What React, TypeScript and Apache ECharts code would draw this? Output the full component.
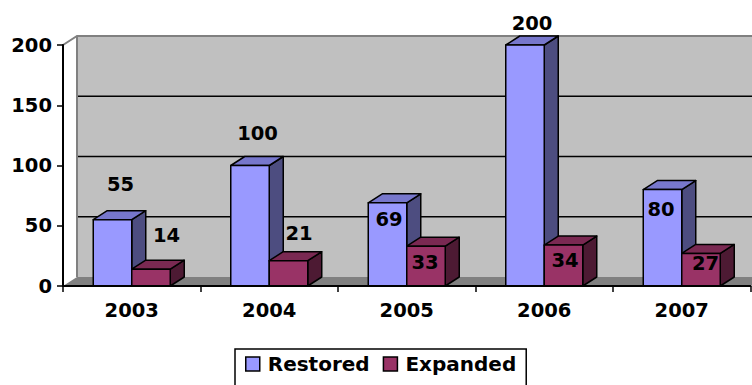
import React, { useEffect, useRef } from 'react';
import * as echarts from 'echarts';

const years = ['2003', '2004', '2005', '2006', '2007'];
const restored = [55, 100, 69, 200, 80];
const expanded = [14, 21, 33, 34, 27];
const yTicks = [0, 50, 100, 150, 200];

// Label offsets (px) from the top centre of each bar's front face
const restoredLabelShift = [[8, -35], [7.5, -32.5], [1.5, 17], [7, -22], [-1.5, 20]];
const expandedLabelShift = [[15.5, -34], [10.5, -27.5], [-1, 16], [1.5, 15], [4.5, 10]];

// depth of the 3D projection
const DX = 14;
const DY = -9;
const FONT = '"DejaVu Sans", "Liberation Sans", sans-serif';

type Faces = { front: string; top: string; side: string };

function barRenderer(shifts: number[][], side: 0 | 1, colors: Faces) {
  return (params: any, api: any) => {
    const i = api.value(0);
    const v = api.value(1);
    const base = api.coord([i, 0]);
    const topPt = api.coord([i, v]);
    const w = api.size([1, 0])[0] * 0.28;
    const x0 = side === 0 ? base[0] - w : base[0];
    const x1 = x0 + w;
    const y0 = base[1];
    const y1 = topPt[1];
    const line = { stroke: '#000', lineWidth: 1.5, lineJoin: 'round' };
    const sh = shifts[params.dataIndex];
    return {
      type: 'group',
      children: [
        {
          type: 'polygon',
          shape: { points: [[x1, y0], [x1 + DX, y0 + DY], [x1 + DX, y1 + DY], [x1, y1]] },
          style: { fill: colors.side, ...line },
        },
        {
          type: 'polygon',
          shape: { points: [[x0, y1], [x0 + DX, y1 + DY], [x1 + DX, y1 + DY], [x1, y1]] },
          style: { fill: colors.top, ...line },
        },
        {
          type: 'rect',
          shape: { x: x0, y: y1, width: w, height: y0 - y1 },
          style: { fill: colors.front, ...line },
        },
        {
          type: 'text',
          style: {
            text: String(v),
            x: (x0 + x1) / 2 + sh[0],
            y: y1 + sh[1],
            align: 'center',
            verticalAlign: 'middle',
            font: `bold 19.5px ${FONT}`,
            fill: '#000',
          },
        },
      ],
    };
  };
}

function wallRenderer(params: any, api: any) {
  const cs = params.coordSys;
  const left = cs.x;
  const right = cs.x + cs.width;
  const top = cs.y;
  const bottom = cs.y + cs.height;
  const grid = yTicks.slice(1, -1).map((v) => {
    const y = api.coord([0, v])[1] + DY;
    return {
      type: 'line',
      shape: { x1: left + DX, y1: y, x2: right + DX, y2: y },
      style: { stroke: '#000', lineWidth: 1.4 },
    };
  });
  return {
    type: 'group',
    children: [
      {
        type: 'rect',
        shape: { x: left + DX, y: top + DY, width: cs.width, height: cs.height },
        style: { fill: '#C0C0C0' },
      },
      ...grid,
      {
        type: 'polygon',
        shape: { points: [[left, bottom], [left + DX, bottom + DY], [right + DX, bottom + DY], [right, bottom]] },
        style: { fill: '#808080' },
      },
      {
        type: 'polyline',
        shape: { points: [[left, top], [left + DX, top + DY], [right + DX, top + DY]] },
        style: { stroke: '#808080', lineWidth: 2, fill: 'none' },
      },
      {
        type: 'line',
        shape: { x1: left + DX, y1: top + DY, x2: left + DX, y2: bottom + DY },
        style: { stroke: '#808080', lineWidth: 2 },
      },
    ],
  };
}

export default function App() {
  const ref = useRef<HTMLDivElement>(null);

  useEffect(() => {
    if (!ref.current) return;
    const chart = echarts.init(ref.current, null, { renderer: 'svg' });
    const labelStyle = { fontFamily: FONT, fontWeight: 'bold', fontSize: 19.5, color: '#000' };
    chart.setOption({
      animation: false,
      backgroundColor: '#fff',
      grid: { left: 63, right: 1.5, top: 45, bottom: 99, containLabel: false },
      xAxis: {
        type: 'category',
        data: years,
        z: 10,
        axisLine: { lineStyle: { color: '#000', width: 2 } },
        axisTick: { show: true, length: 6, lineStyle: { color: '#000', width: 1.5 } },
        axisLabel: { ...labelStyle, margin: 14 },
        splitLine: { show: false },
      },
      yAxis: {
        type: 'value',
        min: 0,
        max: 200,
        interval: 50,
        z: 10,
        axisLine: { show: true, lineStyle: { color: '#000', width: 2 } },
        axisTick: { show: true, length: 6, lineStyle: { color: '#000', width: 1.5 } },
        axisLabel: { ...labelStyle, margin: 11 },
        splitLine: { show: false },
      },
      legend: {
        data: ['Restored', 'Expanded'],
        left: 235,
        top: 349,
        icon: 'rect',
        itemWidth: 14,
        itemHeight: 14,
        itemGap: 13,
        borderColor: '#000',
        borderWidth: 1.5,
        padding: [5, 10, 14, 10],
        itemStyle: { borderColor: '#000', borderWidth: 1.5 },
        textStyle: { fontFamily: FONT, fontWeight: 'bold', fontSize: 20, color: '#000', padding: [0, 0, 0, 3] },
      },
      series: [
        {
          name: 'walls',
          type: 'custom',
          silent: true,
          z: 1,
          data: [[0, 0]],
          renderItem: wallRenderer,
        },
        {
          name: 'Restored',
          type: 'custom',
          z: 3,
          itemStyle: { color: '#9999FF' },
          data: restored.map((v, i) => [i, v]),
          renderItem: barRenderer(restoredLabelShift, 0, { front: '#9999FF', top: '#7777CC', side: '#4D4D80' }),
        },
        {
          name: 'Expanded',
          type: 'custom',
          z: 4,
          itemStyle: { color: '#993366' },
          data: expanded.map((v, i) => [i, v]),
          renderItem: barRenderer(expandedLabelShift, 1, { front: '#993366', top: '#7A2952', side: '#4D1A33' }),
        },
      ],
    });
    return () => chart.dispose();
  }, []);

  return <div ref={ref} style={{ width: 752, height: 385, position: 'absolute', left: 0, top: 0 }} />;
}
